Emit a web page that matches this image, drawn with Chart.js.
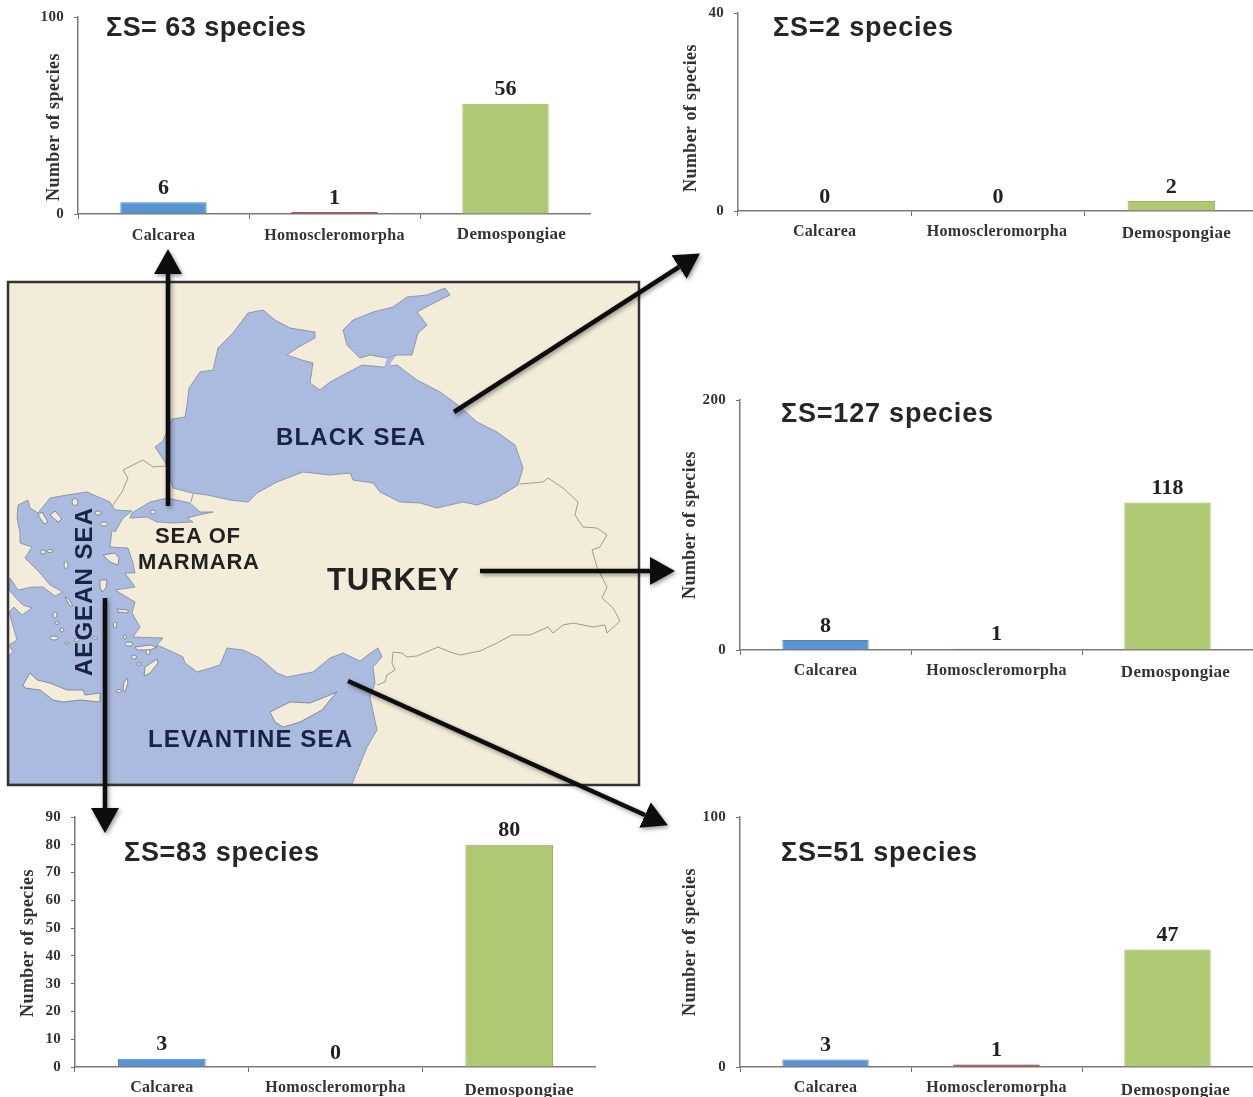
<!DOCTYPE html>
<html>
<head>
<meta charset="utf-8">
<title>Sponge species by sea</title>
<script src="https://cdn.jsdelivr.net/npm/chart.js@4"></script>
<style>
  html, body { margin: 0; padding: 0; background: #fff; width: 1253px; height: 1097px; overflow: hidden; }
  canvas { position: absolute; }
  #overlay { position: absolute; left: 0; top: 0; pointer-events: none; }
  .coast { stroke: #7f8aa0; stroke-width: 0.8; stroke-linejoin: round; }
  .island { fill: #f3ecd9; stroke: #6f7a8c; stroke-width: 0.8; }
  .border { fill: none; stroke: #a89a7c; stroke-width: 1; stroke-linejoin: round; }
  .sum { font: bold 27px "Liberation Sans", Arial, sans-serif; fill: #262626; }
  .place { font-family: "Liberation Sans", Arial, sans-serif; font-weight: bold; }
  .arrow { stroke: #111; stroke-width: 4.5; fill: none; marker-end: url(#head); }
</style>
</head>
<body>
<canvas id="marmara"></canvas>
<canvas id="blackSea"></canvas>
<canvas id="turkey"></canvas>
<canvas id="aegean"></canvas>
<canvas id="levantine"></canvas>

<svg id="overlay" width="1253" height="1097" xmlns="http://www.w3.org/2000/svg">
  <defs>
    <marker id="head" markerUnits="userSpaceOnUse" markerWidth="26" markerHeight="30" refX="0" refY="15" orient="auto">
      <path d="M0 1 L25 15 L0 29 Z" fill="#111"/>
    </marker>
    <filter id="shadow" x="-10%" y="-10%" width="120%" height="120%">
      <feDropShadow dx="1.5" dy="2" stdDeviation="2" flood-color="#000" flood-opacity="0.4"/>
    </filter>
    <filter id="soft"><feGaussianBlur stdDeviation="0.45"/></filter>
  </defs>

  <!-- map -->
  <rect x="8" y="282" width="631" height="503" fill="#f3ecd9"/>
  <g filter="url(#soft)">
    <!-- Black Sea -->
    <polygon class="coast" fill="#aabbdf" points="172,419 185,417 187,405 189,388 200,372 213,370 218,348 233,333 248,313 263,310 275,320 290,328 315,332 315,338 297,348 287,355 302,360 313,363 310,383 320,390 330,382 347,373 362,365 383,367 397,365 417,380 440,392 458,405 477,422 497,432 515,445 523,468 518,485 497,498 477,505 463,502 437,508 420,503 400,502 380,492 373,483 353,480 350,473 330,475 303,472 277,482 257,493 248,502 230,500 207,495 192,493 173,488 168,472 165,462 155,447 163,441"/>
    <!-- Azov -->
    <polygon class="coast" fill="#aabbdf" points="343,330 353,320 373,312 393,307 407,297 427,295 445,288 450,295 430,305 417,312 427,325 418,333 412,355 397,355 387,358 370,355 360,358 347,345"/>
    <polygon fill="#aabbdf" points="384,369 387,358 396,356 391,362 390,369"/>
    <!-- Marmara -->
    <polygon class="coast" fill="#aabbdf" points="132,513 150,502 167,498 190,503 200,512 213,512 203,514 187,518 193,522 173,523 157,522 147,517 130,518"/>
    <!-- Aegean and Levantine -->
    <polygon class="coast" fill="#aabbdf" points="18,505 28,500 30,508 38,513 50,498 67,495 87,492 110,502 115,510 132,511 123,518 115,532 112,530 110,547 128,548 133,563 135,573 125,573 135,587 115,590 135,602 132,613 140,627 133,637 163,638 157,645 173,652 183,657 185,663 197,672 220,665 227,648 243,650 260,658 277,673 287,677 313,672 330,658 343,653 360,661 372,652 378,648 382,657 373,667 375,683 370,697 377,730 367,747 352,784 9,784 9,655 13,652 9,645 17,640 9,612 14,607 22,615 32,608 23,605 16,598 9,590 10,578 18,590 32,587 43,587 55,596 63,592 50,585 40,573 25,558 32,547 20,543 20,533 17,518"/>
    <!-- Crete, Rhodes, Cyprus and the other large islands -->
    <polygon class="island" points="23,685 30,673 37,680 50,683 67,690 83,690 85,695 100,693 100,702 80,700 63,702 53,700 40,690 25,688"/>
    <polygon class="island" points="157,659 158,663 150,673 144,676 145,667"/>
    <polygon class="island" points="270,712 290,702 310,703 330,695 337,692 330,700 322,710 300,722 283,727 275,722"/>
    <polygon class="island" points="127,678 128,683 125,692 123,690 124,682"/>
    <polygon class="island" points="103,555 115,553 119,558 118,565 110,562"/>
    <polygon class="island" points="100,580 107,580 106,588 102,592 100,587"/>
    <polygon class="island" points="135,647 150,645 157,647 150,650 137,650"/>
    <polygon class="island" points="117,609 128,610 128,613 118,612"/>
    <polygon class="island" points="65,597 68,598 73,606 70,606"/>
    <polygon class="island" points="38,515 42,512 48,522 44,524"/>
    <polygon class="island" points="50,515 55,511 62,519 58,522"/>
    <ellipse class="island" cx="75" cy="502" rx="3" ry="3.5"/>
    <ellipse class="island" cx="98" cy="513" rx="3" ry="2"/>
    <ellipse class="island" cx="104" cy="524" rx="4" ry="2"/>
    <ellipse class="island" cx="153" cy="512" rx="2.5" ry="2"/>
    <ellipse class="island" cx="66" cy="565" rx="2" ry="3.5"/>
    <ellipse class="island" cx="43" cy="552" rx="2.5" ry="2"/>
    <ellipse class="island" cx="50" cy="551" rx="3" ry="1.5"/>
    <ellipse class="island" cx="55" cy="615" rx="2" ry="3"/>
    <ellipse class="island" cx="57" cy="623" rx="2" ry="1.5"/>
    <ellipse class="island" cx="62" cy="630" rx="1.8" ry="2"/>
    <ellipse class="island" cx="54" cy="638" rx="4" ry="2"/>
    <ellipse class="island" cx="67" cy="643" rx="2" ry="1.2"/>
    <ellipse class="island" cx="77" cy="640" rx="2.5" ry="1.5"/>
    <ellipse class="island" cx="95" cy="638" rx="3" ry="1.2"/>
    <ellipse class="island" cx="115" cy="625" rx="1.8" ry="3"/>
    <ellipse class="island" cx="125" cy="637" rx="1.5" ry="2"/>
    <ellipse class="island" cx="129" cy="644" rx="4" ry="2"/>
    <ellipse class="island" cx="134" cy="657" rx="2.5" ry="2"/>
    <ellipse class="island" cx="148" cy="652" rx="2" ry="2.5"/>
    <ellipse class="island" cx="139" cy="664" rx="2" ry="1.5"/>
    <ellipse class="island" cx="119" cy="691" rx="2.5" ry="1.5"/>
    <!-- borders -->
    <polyline class="border" points="165,466 153,467 143,460 133,465 123,470 128,478 122,492 113,505"/>
    <polyline class="border" points="193,494 191,502"/>
    <polyline class="border" points="520,484 543,482 548,478 563,488 578,502 575,515 583,527 597,528 607,535 600,547 592,550 597,567 607,587 602,598 613,608 620,621 607,633 605,625 593,627 573,623 563,625 553,633 548,627 530,635 512,635 497,643 480,651 460,655 450,652 438,647 417,656 407,657 402,653 393,652 392,663 395,670 387,675 385,682 377,685"/>
  </g>
  <rect x="8" y="282" width="631" height="503" fill="none" stroke="#333" stroke-width="2.5"/>

  <text class="place" x="276" y="445" font-size="24" fill="#1b2247" textLength="149">BLACK SEA</text>
  <text class="place" x="155" y="543" font-size="22" fill="#222" textLength="85">SEA OF</text>
  <text class="place" x="138" y="569" font-size="22" fill="#222" textLength="121">MARMARA</text>
  <text class="place" x="327" y="590" font-size="31" fill="#222" textLength="132">TURKEY</text>
  <text class="place" x="148" y="747" font-size="24" fill="#1b2247" textLength="204">LEVANTINE SEA</text>
  <text class="place" transform="translate(92,676) rotate(-90)" font-size="24" fill="#1b2247" textLength="168">AEGEAN SEA</text>

  <!-- species totals -->
  <text class="sum" x="106" y="36" textLength="200">ΣS= 63 species</text>
  <text class="sum" x="773" y="36" textLength="180">ΣS=2 species</text>
  <text class="sum" x="781" y="422" textLength="212">ΣS=127 species</text>
  <text class="sum" x="124" y="861" textLength="195">ΣS=83 species</text>
  <text class="sum" x="781" y="861" textLength="196">ΣS=51 species</text>

  <!-- arrows from the map to the panels -->
  <g filter="url(#shadow)">
    <line class="arrow" x1="168" y1="506" x2="168" y2="274"/>
    <line class="arrow" x1="454" y1="412" x2="679" y2="267"/>
    <line class="arrow" x1="480" y1="571" x2="650" y2="571"/>
    <line class="arrow" x1="105" y1="598" x2="105" y2="808"/>
    <line class="arrow" x1="348" y1="681" x2="645" y2="815"/>
  </g>
</svg>

<script>
const categories = ['Calcarea', 'Homoscleromorpha', 'Demospongiae'];
const barColors = ['#5a93d3', '#953735', '#aec972'];
const barBorders = ['#4f84bf', '#953735', '#9ab262'];

// number of species per class
const marmaraValues = [6, 1, 56];
const blackSeaValues = [0, 0, 2];
const turkeyValues = [8, 1, 118];
const aegeanValues = [3, 0, 80];
const levantineValues = [3, 1, 47];

const leftSpace = 70;
const topSpace = 12;
const bottomSpace = 36;
const serif = '"Liberation Serif", "Times New Roman", serif';

// draws the value above each bar, the y title, and nudges the category labels
const panelText = {
  id: 'panelText',
  beforeDraw(chart) {
    const ctx = chart.ctx;
    ctx.letterSpacing = '0.3px';
    const cfg = chart.options.plugins.panelText;
    const xScale = chart.scales.x;
    if (xScale._shiftedItems !== xScale._labelItems || !xScale._labelItems) {
      const items = xScale.getLabelItems(chart.chartArea);
      items.forEach((item, i) => {
        item.options.translation[0] += cfg.labelShift[i][0];
        item.options.translation[1] += cfg.labelShift[i][1];
      });
      xScale._shiftedItems = items;
    }
  },
  afterDraw(chart) {
    const ctx = chart.ctx;
    const cfg = chart.options.plugins.panelText;
    ctx.save();
    ctx.fillStyle = '#222';
    ctx.textAlign = 'center';
    ctx.textBaseline = 'middle';
    ctx.font = 'bold 22px ' + serif;
    ctx.letterSpacing = '0px';
    chart.getDatasetMeta(0).data.forEach((bar, i) => {
      ctx.fillText(chart.data.datasets[0].data[i], bar.x, bar.y - 14);
    });
    ctx.translate(cfg.titleX, cfg.titleY);
    ctx.rotate(-Math.PI / 2);
    ctx.font = 'bold 18px ' + serif;
    ctx.fillStyle = '#333';
    ctx.letterSpacing = '0.4px';
    ctx.fillText('Number of species', 0, 0);
    ctx.restore();
  }
};

function makePanel(id, values, yMax, yStep, box, titlePos, labelShift) {
  const canvas = document.getElementById(id);
  const w = box.right - box.left;
  const h = box.base - box.top;
  canvas.width = leftSpace + w;
  canvas.height = topSpace + h + bottomSpace;
  canvas.style.left = (box.left - leftSpace) + 'px';
  canvas.style.top = (box.top - topSpace) + 'px';

  return new Chart(canvas, {
    type: 'bar',
    data: {
      labels: categories,
      datasets: [{
        data: values,
        backgroundColor: barColors,
        borderColor: barBorders,
        borderWidth: 1,
        barPercentage: 0.505,
        categoryPercentage: 1
      }]
    },
    plugins: [panelText],
    options: {
      responsive: false,
      animation: false,
      layout: { padding: { top: topSpace, left: 0, right: 0, bottom: 0 } },
      plugins: {
        legend: { display: false },
        tooltip: { enabled: false },
        panelText: {
          titleX: titlePos[0] - box.left + leftSpace,
          titleY: titlePos[1] - box.top + topSpace,
          labelShift: labelShift
        }
      },
      scales: {
        x: {
          grid: { drawOnChartArea: false, tickLength: 5, tickColor: '#6f6f6f', offset: true },
          border: { color: '#7a7a7a', width: 1.5 },
          ticks: {
            color: '#333',
            padding: 7,
            maxRotation: 0,
            autoSkip: false,
            font: (c) => ({ family: serif, weight: 'bold', size: c.index === 2 ? 17 : 16 })
          },
          afterFit(scale) {
            scale.height = bottomSpace;
            scale.paddingLeft = 0;
            scale.paddingRight = 0;
          }
        },
        y: {
          min: 0,
          max: yMax,
          grid: { drawOnChartArea: false, tickLength: 4, tickColor: '#6f6f6f' },
          border: { color: '#7a7a7a', width: 1.5 },
          ticks: {
            stepSize: yStep,
            color: '#333',
            padding: 10,
            font: { family: serif, weight: 'bold', size: 15 }
          },
          afterFit(scale) {
            scale.width = leftSpace;
            scale.paddingTop = 0;
            scale.paddingBottom = 0;
          }
        }
      }
    }
  });
}

makePanel('marmara', marmaraValues, 100, 100,
  { left: 78, right: 591, top: 17, base: 214 }, [54, 127], [[0, 0], [0, 0], [6, -2]]);
makePanel('blackSea', blackSeaValues, 40, 40,
  { left: 738, right: 1258, top: 13, base: 211 }, [691, 118], [[0, -1], [-1, -1], [5, 0]]);
makePanel('turkey', turkeyValues, 200, 200,
  { left: 740, right: 1253, top: 400, base: 650 }, [690, 525], [[0, -1], [0, -1], [8, 0]]);
makePanel('aegean', aegeanValues, 90, 10,
  { left: 75, right: 596, top: 817, base: 1067 }, [28, 943], [[0, -1], [0, -1], [10, 1]]);
makePanel('levantine', levantineValues, 100, 100,
  { left: 740, right: 1253, top: 817, base: 1067 }, [690, 942], [[0, -1], [0, -1], [8, 1]]);
</script>
</body>
</html>
